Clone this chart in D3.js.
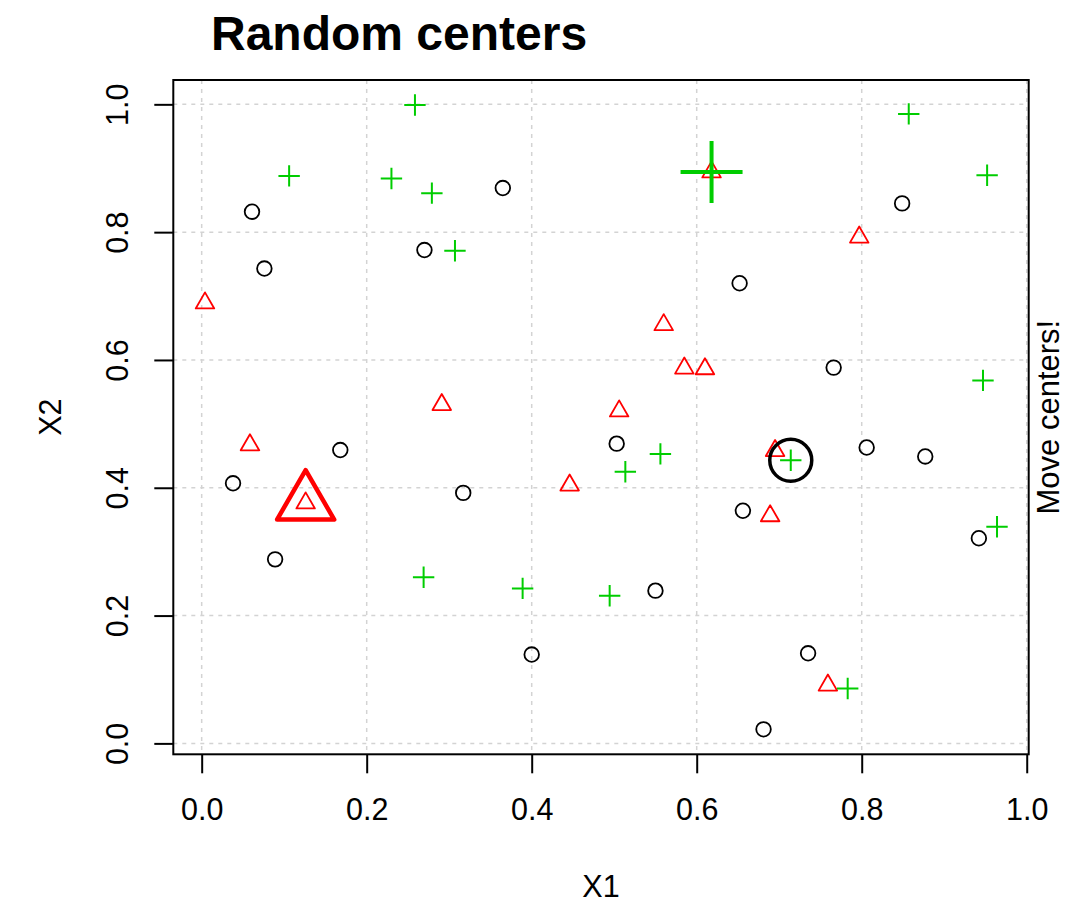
<!DOCTYPE html>
<html>
<head>
<meta charset="utf-8">
<script src="https://cdn.jsdelivr.net/npm/d3@7"></script>
<style>
  html, body { margin: 0; padding: 0; background: #fff; }
  svg { display: block; }
  text { font-family: "Liberation Sans", Arial, Helvetica, sans-serif; fill: #000; }
</style>
</head>
<body>
<svg id="chart" width="1074" height="905"></svg>
<script>
// ---- data ----
const circleX = [0.061, 0.076, 0.365, 0.270, 0.652, 0.849, 0.766, 0.168, 0.038, 0.317,
                 0.503, 0.656, 0.806, 0.877, 0.942, 0.089, 0.550, 0.400, 0.735, 0.681];
const circleY = [0.832, 0.743, 0.869, 0.772, 0.720, 0.845, 0.588, 0.459, 0.407, 0.392,
                 0.469, 0.364, 0.463, 0.449, 0.321, 0.288, 0.239, 0.139, 0.141, 0.022];

const triangleX = [0.004, 0.618, 0.797, 0.291, 0.0585, 0.126, 0.560, 0.585, 0.610, 0.506,
                   0.446, 0.695, 0.689, 0.759];
const triangleY = [0.689, 0.894, 0.792, 0.530, 0.467, 0.376, 0.655, 0.587, 0.586, 0.520,
                   0.404, 0.458, 0.356, 0.091];

const plusX = [0.2585, 0.106, 0.230, 0.279, 0.307, 0.857, 0.952, 0.947, 0.714, 0.556,
               0.5135, 0.964, 0.269, 0.389, 0.4945, 0.783];
const plusY = [0.999, 0.888, 0.884, 0.861, 0.771, 0.985, 0.889, 0.568, 0.443, 0.453,
               0.425, 0.339, 0.260, 0.2425, 0.231, 0.086];

// random centers (one per cluster: circle, triangle, plus)
const centerX = [0.714, 0.126, 0.618];
const centerY = [0.443, 0.376, 0.894];

const xTicks = [0.0, 0.2, 0.4, 0.6, 0.8, 1.0];
const yTicks = [0.0, 0.2, 0.4, 0.6, 0.8, 1.0];
const xTickLabels = ["0.0", "0.2", "0.4", "0.6", "0.8", "1.0"];
const yTickLabels = ["0.0", "0.2", "0.4", "0.6", "0.8", "1.0"];

const titleText = "Random centers";
const xLabel = "X1";
const yLabel = "X2";
const sideText = "Move centers!";

// ---- layout ----
const plot = { left: 173.3, right: 1028.7, top: 80, bottom: 754.3 };
const svg = d3.select("#chart");

const allX = circleX.concat(triangleX, plusX);
const allY = circleY.concat(triangleY, plusY);
function rExt(vals) {
  const [a, b] = d3.extent(vals);
  const d = (b - a) * 0.04;
  return [a - d, b + d];
}
const x = d3.scaleLinear().domain(rExt(allX)).range([plot.left, plot.right]);
const y = d3.scaleLinear().domain(rExt(allY)).range([plot.bottom, plot.top]);

const RED = "#FF0000", GREEN = "#00CD00", BLACK = "#000000";

// grid
const grid = svg.append("g");
grid.selectAll("line.vx").data(xTicks).enter().append("line")
  .attr("x1", d => x(d)).attr("x2", d => x(d))
  .attr("y1", plot.top).attr("y2", plot.bottom)
  .attr("stroke", "#D3D3D3").attr("stroke-width", 1.5).attr("stroke-dasharray", "4,5");
grid.selectAll("line.hy").data(yTicks).enter().append("line")
  .attr("y1", d => y(d)).attr("y2", d => y(d))
  .attr("x1", plot.left).attr("x2", plot.right)
  .attr("stroke", "#D3D3D3").attr("stroke-width", 1.5).attr("stroke-dasharray", "4,5");

// axes
const xAxis = d3.axisBottom(x).tickValues(xTicks).tickSize(19).tickSizeOuter(0)
  .tickFormat((d, i) => xTickLabels[i]).tickPadding(12);
const gx = svg.append("g").attr("transform", `translate(0,${plot.bottom})`).call(xAxis);
gx.select(".domain").remove();
gx.selectAll(".tick line").attr("stroke", BLACK).attr("stroke-width", 2);
gx.selectAll(".tick text").attr("font-size", 30.5).attr("font-family", null)
  .attr("y", null).attr("dy", null).attr("transform", "translate(0,66)");

const yAxis = d3.axisLeft(y).tickValues(yTicks).tickSize(19).tickSizeOuter(0)
  .tickFormat((d, i) => yTickLabels[i]);
const gy = svg.append("g").attr("transform", `translate(${plot.left},0)`).call(yAxis);
gy.select(".domain").remove();
gy.selectAll(".tick line").attr("stroke", BLACK).attr("stroke-width", 2);
gy.selectAll(".tick text").attr("font-size", 30.5).attr("font-family", null)
  .attr("x", null).attr("dy", null)
  .attr("text-anchor", "middle")
  .attr("transform", `translate(${128 - plot.left},0) rotate(-90)`);

// box
svg.append("rect")
  .attr("x", plot.left).attr("y", plot.top)
  .attr("width", plot.right - plot.left).attr("height", plot.bottom - plot.top)
  .attr("fill", "none").attr("stroke", BLACK).attr("stroke-width", 2);

// marker generators
function triPath(r) {
  const h = r * Math.sqrt(3) / 2;
  return `M0,${-r}L${h},${r / 2}L${-h},${r / 2}Z`;
}
function plusPath(s) {
  return `M${-s},0L${s},0M0,${-s}L0,${s}`;
}

const pts = svg.append("g");
// circles
pts.selectAll("circle.c1").data(d3.range(circleX.length)).enter().append("circle")
  .attr("cx", i => x(circleX[i])).attr("cy", i => y(circleY[i])).attr("r", 7.3)
  .attr("fill", "none").attr("stroke", BLACK).attr("stroke-width", 1.8);
// triangles
pts.selectAll("path.c2").data(d3.range(triangleX.length)).enter().append("path")
  .attr("d", triPath(10.7))
  .attr("transform", i => `translate(${x(triangleX[i])},${y(triangleY[i])})`)
  .attr("fill", "none").attr("stroke", RED).attr("stroke-width", 1.8)
  .attr("stroke-linejoin", "round");
// plus
pts.selectAll("path.c3").data(d3.range(plusX.length)).enter().append("path")
  .attr("d", plusPath(10.7))
  .attr("transform", i => `translate(${x(plusX[i])},${y(plusY[i])})`)
  .attr("fill", "none").attr("stroke", GREEN).attr("stroke-width", 2);

// centers
const cg = svg.append("g");
cg.append("circle")
  .attr("cx", x(centerX[0])).attr("cy", y(centerY[0])).attr("r", 21)
  .attr("fill", "none").attr("stroke", BLACK).attr("stroke-width", 3.5);
cg.append("path")
  .attr("d", triPath(33))
  .attr("transform", `translate(${x(centerX[1])},${y(centerY[1])})`)
  .attr("fill", "none").attr("stroke", RED).attr("stroke-width", 4.5)
  .attr("stroke-linejoin", "round");
cg.append("path")
  .attr("d", plusPath(31))
  .attr("transform", `translate(${x(centerX[2])},${y(centerY[2])})`)
  .attr("fill", "none").attr("stroke", GREEN).attr("stroke-width", 4);

// title & labels
svg.append("text").attr("x", 211).attr("y", 50)
  .attr("font-size", 48).attr("font-weight", "bold").text(titleText);
svg.append("text").attr("x", (plot.left + plot.right) / 2).attr("y", 897)
  .attr("text-anchor", "middle").attr("font-size", 30.5).text(xLabel);
svg.append("text")
  .attr("transform", `translate(61,${(plot.top + plot.bottom) / 2}) rotate(-90)`)
  .attr("text-anchor", "middle").attr("font-size", 30.5).text(yLabel);
svg.append("text")
  .attr("transform", `translate(1059,${(plot.top + plot.bottom) / 2}) rotate(-90)`)
  .attr("text-anchor", "middle").attr("font-size", 31).text(sideText);
</script>
</body>
</html>
